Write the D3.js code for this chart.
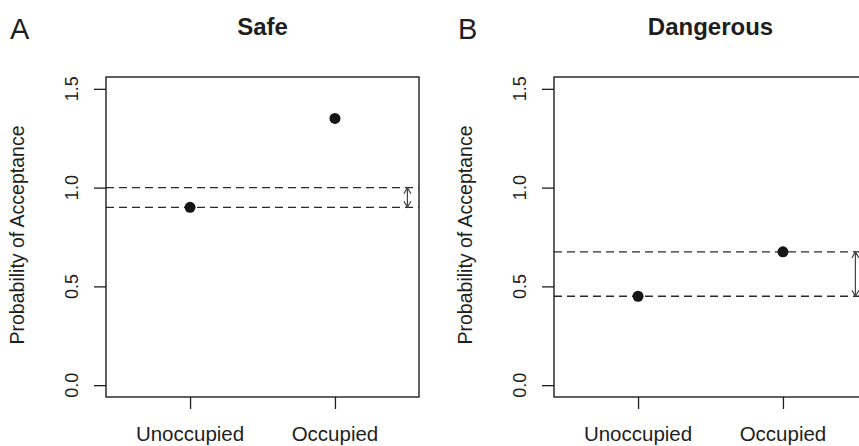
<!DOCTYPE html>
<html>
<head>
<meta charset="utf-8">
<script src="https://cdn.jsdelivr.net/npm/d3@7"></script>
<style>
  html, body { margin: 0; padding: 0; background: #fff; }
  svg { display: block; }
  text { font-family: "Liberation Sans", Arial, Helvetica, sans-serif; fill: #1e1e1e; }
</style>
</head>
<body>
<svg id="chart" width="859" height="446"></svg>
<script>
// ---- data ----
const categories = ["Unoccupied", "Occupied"];
const safeValues = [0.9, 1.35];
const dangerousValues = [0.45, 0.675];
const safeRefLines = [1.0, 0.9];
const dangerousRefLines = [0.675, 0.45];
const yTicks = [0, 0.5, 1.0, 1.5];
const yTickLabels = ["0.0", "0.5", "1.0", "1.5"];
const panelLetters = ["A", "B"];
const panelTitles = ["Safe", "Dangerous"];
const yAxisTitle = "Probability of Acceptance";
const arrowX = 2.5;

const panels = [
  { letter: panelLetters[0], title: panelTitles[0], values: safeValues, lines: safeRefLines, left: 106, letterX: 10 },
  { letter: panelLetters[1], title: panelTitles[1], values: dangerousValues, lines: dangerousRefLines, left: 554, letterX: 458 }
];

const svg = d3.select("#chart");
const plotW = 313, plotTop = 77, plotBottom = 397;
const ink = "#1e1e1e";

panels.forEach(p => {
  const x = d3.scaleLinear().domain([0.42, 2.58]).range([p.left, p.left + plotW]);
  const y = d3.scaleLinear().domain([-0.06, 1.56]).range([plotBottom, plotTop]);
  const g = svg.append("g");

  const clipId = "clip" + p.letter;
  svg.append("clipPath").attr("id", clipId)
    .append("rect").attr("x", p.left).attr("y", plotTop).attr("width", plotW).attr("height", plotBottom - plotTop);

  // dashed reference lines
  g.append("g").attr("clip-path", `url(#${clipId})`)
    .selectAll("line").data(p.lines).join("line")
    .attr("x1", p.left).attr("x2", p.left + plotW)
    .attr("y1", d => y(d)).attr("y2", d => y(d))
    .attr("stroke", "#2a2a2a").attr("stroke-width", 1.3)
    .attr("stroke-dasharray", "8,5");

  // double arrow
  const ax = x(arrowX), y1 = y(p.lines[0]), y2 = y(p.lines[1]);
  const L = 7, ang = Math.PI / 6;
  const hx = L * Math.sin(ang), hy = L * Math.cos(ang);
  const path = `M${ax},${y1}L${ax},${y2}` +
    `M${ax - hx},${y1 + hy}L${ax},${y1}L${ax + hx},${y1 + hy}` +
    `M${ax - hx},${y2 - hy}L${ax},${y2}L${ax + hx},${y2 - hy}`;
  g.append("path").attr("d", path).attr("fill", "none")
    .attr("stroke", "#444").attr("stroke-width", 1.2);

  // box
  g.append("rect").attr("x", p.left).attr("y", plotTop)
    .attr("width", plotW).attr("height", plotBottom - plotTop)
    .attr("fill", "none").attr("stroke", ink).attr("stroke-width", 1.4);

  // y axis
  const yAxis = d3.axisLeft(y).tickValues(yTicks).tickSize(12).tickFormat("");
  const ya = g.append("g").attr("transform", `translate(${p.left},0)`).call(yAxis);
  ya.select(".domain").remove();
  ya.selectAll(".tick line").attr("stroke", ink).attr("stroke-width", 1.3);
  g.selectAll(".ytl").data(yTicks).join("text")
    .attr("class", "ytl")
    .attr("transform", d => `translate(${p.left - 28},${y(d)}) rotate(-90)`)
    .attr("text-anchor", "middle")
    .style("font-size", "18px")
    .text((d, i) => yTickLabels[i]);

  // x axis
  const xAxis = d3.axisBottom(x).tickValues([1, 2]).tickSize(12).tickFormat("");
  const xa = g.append("g").attr("transform", `translate(0,${plotBottom})`).call(xAxis);
  xa.select(".domain").remove();
  xa.selectAll(".tick line").attr("stroke", ink).attr("stroke-width", 1.3);
  g.selectAll(".xtl").data(categories).join("text")
    .attr("class", "xtl")
    .attr("x", (d, i) => x(i + 1)).attr("y", 441)
    .attr("text-anchor", "middle")
    .style("font-size", "20.5px")
    .text(d => d);

  // points
  g.selectAll("circle").data(p.values).join("circle")
    .attr("cx", (d, i) => x(i + 1)).attr("cy", d => y(d))
    .attr("r", 5.5).attr("fill", "#161616");

  // y title
  g.append("text")
    .attr("transform", `translate(${p.left - 82},${(plotTop + plotBottom) / 2 - 2}) rotate(-90)`)
    .attr("text-anchor", "middle")
    .style("font-size", "19.5px")
    .text(yAxisTitle);

  // title
  g.append("text")
    .attr("x", p.left + plotW / 2).attr("y", 35)
    .attr("text-anchor", "middle")
    .style("font-size", "24px").style("font-weight", "bold")
    .text(p.title);

  // panel letter
  g.append("text")
    .attr("x", p.letterX).attr("y", 39)
    .style("font-size", "29px")
    .text(p.letter);
});
</script>
</body>
</html>
